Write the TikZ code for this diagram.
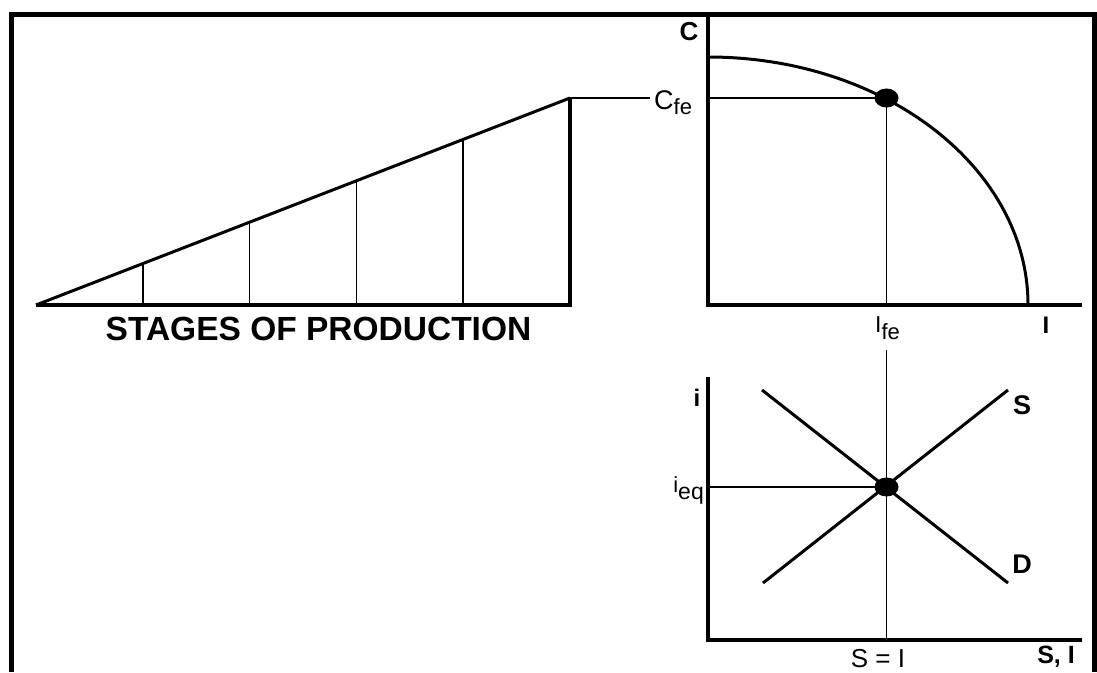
\documentclass[tikz,border=0pt]{standalone}
\usepackage{fontspec}
\setmainfont{Liberation Sans}
\usetikzlibrary{calc}
\begin{document}
\begin{tikzpicture}[x=1pt,y=1pt,
  frame/.style={line width=5pt, line join=miter},
  axis/.style={line width=4pt, line join=miter},
  curve/.style={line width=3pt},
  guide/.style={line width=1.5pt},
  lbl/.style={inner sep=0pt, anchor=base},
  boldlbl/.style={lbl, font=\fontsize{#1}{#1}\selectfont\bfseries},
  plainlbl/.style={lbl, font=\fontsize{#1}{#1}\selectfont}]
\useasboundingbox (0,0) rectangle (1097,672);
% frame
\coordinate (FL) at (11.5,0);
\coordinate (FTL) at (11.5,657.5);
\coordinate (FTR) at (1094.5,657.5);
\coordinate (FR) at (1094.5,0);
\draw[frame] (FL) -- (FTL) -- (FTR) -- (FR);
% stages of production triangle
\coordinate (A) at (36,367);
\coordinate (B) at (570,367);
\coordinate (T) at (570,574);
\draw[axis] (A) -- (B) -- (T);
\draw[curve] (A) -- (T);
\foreach \t in {0.2,0.4,0.6,0.8}
  \draw[guide] ($(A)!\t!(T)$) -- ($(A)!\t!(B)$);
\node[boldlbl=33.5] (stages) at (318.5,331) {STAGES OF PRODUCTION};
% top graph: C vs I
\coordinate (O1) at (708,367);
\coordinate (Ctop) at (708,655);
\coordinate (Iend) at (1082,367);
\coordinate (Cint) at (708,615);
\coordinate (E1) at (886.5,574);
\draw[axis] (Ctop) -- (O1) -- (Iend);
\draw[curve] (Cint) arc[start angle=90, end angle=0, x radius=320, y radius=248];
\draw[guide] (O1 |- E1) -- (E1) -- (E1 |- O1);
\fill (E1) ellipse[x radius=12, y radius=9.5];
\node[boldlbl=26] (Clab) at (689,631) {C};
\node[plainlbl=27, anchor=base west, inner xsep=4pt] (cfe) at (650,562)
  {C\raisebox{-5pt}{\fontsize{22}{22}\selectfont fe}};
\draw[guide] (T) -- (T -| cfe.west);
\node[plainlbl=23, anchor=base west] (ife) at (875,339)
  {I\raisebox{-7pt}{\fontsize{22}{22}\selectfont fe}};
\node[boldlbl=24] (Ilab) at (1046,338) {I};
% bottom graph: i vs S, I
\coordinate (O2) at (708,32);
\coordinate (itop) at (708,295);
\coordinate (SIend) at (1082,32);
\coordinate (E2) at (886.5,185);
\coordinate (Vt) at (886.5,322);
\coordinate (D1) at (762,282);
\coordinate (D2) at (1008,89);
\coordinate (S1) at (763,89);
\coordinate (S2) at (1008,282);
\draw[axis] (itop) -- (O2) -- (SIend);
\draw[guide] (Vt) -- (Vt |- O2);
\draw[guide] (O2 |- E2) -- (E2);
\draw[curve] (D1) -- (D2);
\draw[curve] (S1) -- (S2);
\fill (E2) ellipse[x radius=12, y radius=9.5];
\node[boldlbl=24] (ilab) at (697,265) {i};
\node[plainlbl=22, anchor=base east] (ieq) at (704,179)
  {i\raisebox{-7pt}{\fontsize{23}{23}\selectfont eq}};
\node[boldlbl=27] (Slab) at (1022,257) {S};
\node[boldlbl=27] (Dlab) at (1022,99) {D};
\node[plainlbl=26] (SeqI) at (878,5) {S = I};
\node[boldlbl=25] (SIlab) at (1056,9) {S, I};
\end{tikzpicture}
\end{document}
